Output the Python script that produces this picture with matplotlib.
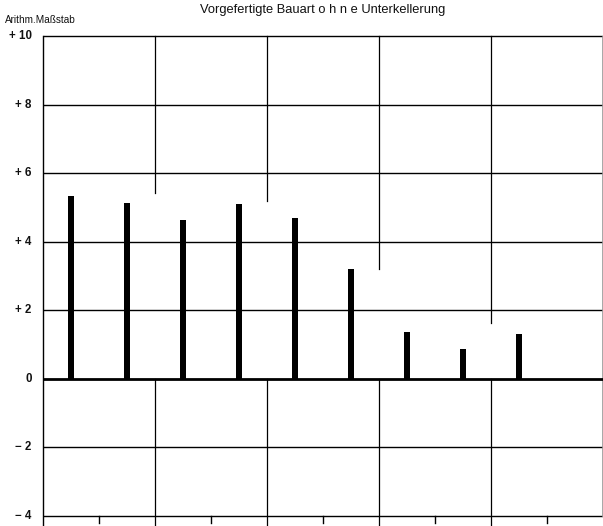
import matplotlib.pyplot as plt
import numpy as np

plt.rcParams['font.family'] = ['Liberation Sans', 'DejaVu Sans']

# bars (one per period)
positions = [0.5, 1.5, 2.5, 3.5, 4.5, 5.5, 6.5, 7.5, 8.5]
values = [5.33, 5.12, 4.63, 5.10, 4.69, 3.19, 1.38, 0.87, 1.32]

yticks = [10, 8, 6, 4, 2, 0, -2, -4]
ylabels = ["+ 10", "+ 8", "+ 6", "+ 4", "+ 2", "0", "\u2212 2", "\u2212 4"]

# vertical grid lines and where their upper part stops (gap down to 0)
grid_x = [2, 4, 6, 8]
grid_gap_top = [5.42, 5.19, 3.2, 1.63]

fig = plt.figure(figsize=(6.03, 5.26), dpi=100)
ax = fig.add_axes([43 / 603, 10 / 526, 560 / 603, 480 / 526])
ax.set_xlim(0, 10)
ax.set_ylim(-4, 10)
ax.axis("off")

# horizontal grid
for y in yticks:
    if y == 0:
        continue
    ax.plot([0, 10], [y, y], color="black", lw=1.0, solid_capstyle="butt",
            clip_on=False)
ax.plot([-0.12, 10], [0, 0], color="black", lw=2.0, solid_capstyle="butt", zorder=4)

# vertical grid, interrupted above the bars
for gx, gtop in zip(grid_x, grid_gap_top):
    ax.plot([gx, gx], [gtop, 10], color="black", lw=0.9, clip_on=False)
    ax.plot([gx, gx], [-4.25, 0], color="black", lw=0.9, clip_on=False)

# frame
ax.plot([0, 0], [-4.25, 10], color="black", lw=1.0, clip_on=False)
ax.plot([9.99, 9.99], [-4, 10], color="#999999", lw=0.6, clip_on=False)

# short ticks below the base line
for tx in [1, 3, 5, 7, 9]:
    ax.plot([tx, tx], [-4, -4.2], color="black", lw=1.0, clip_on=False)

ax.bar(positions, values, width=0.115, color="black", zorder=5)

for y, lab in zip(yticks, ylabels):
    ax.text(-0.2, y, lab, ha="right", va="center", fontsize=8.3,
            fontweight="bold", color="#111111")

fig.text(5 / 603, 1 - 20 / 526, "Arithm.Maßstab", ha="left", va="center",
         fontsize=7.2, color="#111111")
fig.text(323 / 603, 1 - 10 / 526, "Vorgefertigte Bauart o h n e Unterkellerung",
         ha="center", va="center", fontsize=9.3, color="#111111")

fig.savefig("out.png", dpi=100)
